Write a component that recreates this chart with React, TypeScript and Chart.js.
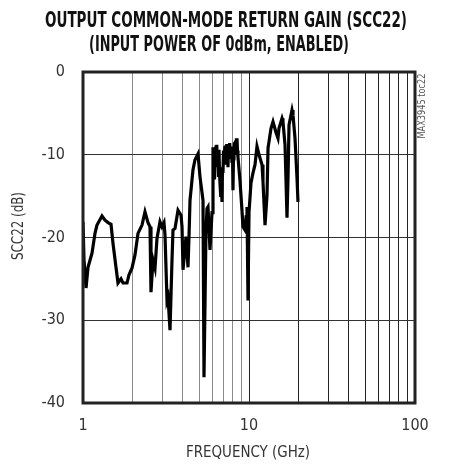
import React, { useEffect, useRef } from 'react';
import { Chart, registerables } from 'chart.js';

Chart.register(...registerables);

const titleLines = ['OUTPUT COMMON-MODE RETURN GAIN (SCC22)', '(INPUT POWER OF 0dBm, ENABLED)'];
const xAxisTitle = 'FREQUENCY (GHz)';
const yAxisTitle = 'SCC22 (dB)';
const watermark = 'MAX3945 toc22';

const freqGHz = [
  1.0, 1.014, 1.043, 1.072, 1.133, 1.181, 1.214, 1.302, 1.357, 1.415, 1.475, 1.516, 1.58, 1.625, 1.694,
  1.742, 1.841, 1.893, 1.973, 2.057, 2.145, 2.267, 2.363, 2.464, 2.533, 2.568, 2.64, 2.715, 2.791, 2.91,
  2.991, 3.075, 3.119, 3.207, 3.252, 3.343, 3.437, 3.485, 3.583, 3.735, 3.895, 3.949, 4.004, 4.174, 4.291,
  4.351, 4.412, 4.599, 4.728, 4.929, 5.07, 5.284, 5.357, 5.432, 5.508, 5.585, 5.663, 5.822, 5.986,
  6.069, 6.11, 6.15, 6.2, 6.24, 6.29, 6.33, 6.37, 6.415, 6.46, 6.5, 6.55, 6.595, 6.64, 6.69, 6.74,
  6.781, 6.83, 6.875, 6.92, 6.971, 7.02, 7.07, 7.12, 7.167, 7.22, 7.27, 7.32, 7.368, 7.42, 7.47, 7.52,
  7.575, 7.65, 7.73, 7.81, 7.897, 7.95, 8.007, 8.06, 8.12, 8.17, 8.232, 8.29, 8.35, 8.4, 8.463, 8.52,
  8.582, 8.823, 9.07, 9.197, 9.461, 9.6, 9.726,
  9.862, 10.0, 10.28, 10.57, 10.87, 11.17, 11.49, 11.98, 12.14, 12.49, 12.84, 13.02, 13.57, 13.95, 14.54,
  14.95, 15.16, 15.81, 16.02, 16.48, 16.94, 17.18, 17.42, 18.16, 18.41, 18.93, 19.46, 19.73,
];

const scc22dB = [
  -18.1, -22.7, -26.1, -23.6, -21.9, -19.5, -18.5, -17.4, -17.9, -18.2, -18.4, -20.7, -23.6, -25.5, -25.0,
  -25.5, -25.5, -24.5, -23.7, -22.1, -19.5, -18.5, -16.9, -18.2, -18.7, -26.6, -22.7, -23.7, -20.1, -18.1,
  -18.7, -18.2, -19.7, -27.6, -27.2, -31.2, -22.7, -19.1, -18.9, -16.7, -17.3, -18.7, -23.9, -19.9, -23.6,
  -19.9, -15.5, -11.8, -10.6, -9.9, -12.7, -15.5, -36.9, -28.0, -19.0, -16.5, -16.3, -21.5, -17.0,
  -9.1, -12.5, -9.5, -13.0, -10.0, -11.5, -8.9, -10.5, -8.8, -11.0, -9.5, -12.5, -9.4, -12.0, -13.5, -11.5,
  -15.1, -13.0, -15.7, -11.5, -12.2, -9.5, -11.0, -9.0, -10.3, -8.9, -10.5, -8.7, -10.0, -8.8, -11.5, -9.0,
  -10.5, -8.6, -10.2, -9.0, -11.0, -9.4, -14.3, -10.5, -9.8, -8.5, -10.0, -8.3, -9.5, -8.2, -8.0, -9.5,
  -10.3, -13.1, -16.7, -18.7, -19.1, -17.5, -16.3,
  -27.6, -17.0, -13.4, -12.2, -11.2, -9.0, -10.0, -11.2, -13.2, -18.5, -14.9, -9.2, -6.8, -6.0, -7.3,
  -8.0, -6.8, -5.6, -6.0, -8.8, -17.6, -12.8, -6.4, -4.6, -5.2, -8.0, -12.8, -15.7,
];

const xGridValues = [1, 2, 3, 4, 5, 6, 7, 8, 9, 10, 20, 30, 40, 50, 60, 70, 80, 90, 100];
const xLabelValues = [1, 10, 100];
const yMin = -40;
const yMax = 0;
const yStep = 10;

const NARROW = "'Liberation Sans Narrow', 'Arial Narrow', 'DejaVu Sans Condensed', sans-serif";

function fitText(
  ctx: CanvasRenderingContext2D,
  text: string,
  x: number,
  y: number,
  width: number,
  font: string,
  color: string,
  align: 'left' | 'center',
  rotate = 0
) {
  ctx.save();
  ctx.font = font;
  const m = ctx.measureText(text).width;
  ctx.translate(x, y);
  if (rotate) ctx.rotate(rotate);
  ctx.scale(width / m, 1);
  ctx.fillStyle = color;
  ctx.textAlign = align;
  ctx.textBaseline = 'middle';
  ctx.fillText(text, 0, 0);
  ctx.restore();
}

const decorPlugin = {
  id: 'decor',
  afterDraw(chart: any) {
    const { ctx, chartArea: a } = chart;
    ctx.save();
    ctx.strokeStyle = '#222';
    ctx.lineWidth = 3;
    ctx.strokeRect(a.left, a.top, a.right - a.left, a.bottom - a.top);
    ctx.restore();

    fitText(ctx, titleLines[0], 45, 21.5, 362, `bold 22px ${NARROW}`, '#111', 'left');
    fitText(ctx, titleLines[1], 89, 45.5, 260, `bold 22px ${NARROW}`, '#111', 'left');
    fitText(ctx, xAxisTitle, 248, 453, 124, `16px ${NARROW}`, '#333', 'center');
    fitText(ctx, yAxisTitle, 19, 226, 68, `16px ${NARROW}`, '#333', 'center', -Math.PI / 2);
    fitText(ctx, watermark, 422.5, 106, 65, `11px ${NARROW}`, '#555', 'center', -Math.PI / 2);
  },
};

export default function App() {
  const ref = useRef<HTMLCanvasElement | null>(null);

  useEffect(() => {
    document.body.style.margin = '0';
    const canvas = ref.current;
    if (!canvas) return;
    const points = freqGHz.map((f, i) => ({ x: f, y: scc22dB[i] }));
    const chart = new Chart(canvas, {
      type: 'line',
      data: {
        datasets: [
          {
            data: points,
            borderColor: '#000',
            borderWidth: 3.2,
            pointRadius: 0,
            tension: 0,
            fill: false,
          },
        ],
      },
      options: {
        animation: false,
        responsive: false,
        devicePixelRatio: 1,
        layout: { padding: { left: 0, right: 39, top: 72, bottom: 0 } },
        plugins: { legend: { display: false }, tooltip: { enabled: false }, title: { display: false } },
        scales: {
          x: {
            type: 'logarithmic',
            min: 1,
            max: 100,
            afterFit: (s: any) => {
              s.height = 61;
            },
            afterBuildTicks: (s: any) => {
              s.ticks = xGridValues.map((v) => ({ value: v }));
            },
            border: { display: false },
            grid: {
              drawTicks: false,
              lineWidth: 1,
              color: (c: any) => (c.tick && c.tick.value < 10 ? '#8a8a8a' : '#222'),
            },
            ticks: {
              autoSkip: false,
              maxRotation: 0,
              padding: 13,
              color: '#333',
              font: { family: NARROW, size: 16 },
              callback: (v: any) => (xLabelValues.includes(Number(v)) ? String(v) : ''),
            },
          },
          y: {
            min: yMin,
            max: yMax,
            afterFit: (s: any) => {
              s.width = 83;
            },
            border: { display: false },
            grid: { drawTicks: false, lineWidth: 1, color: '#333' },
            ticks: {
              stepSize: yStep,
              padding: 18,
              color: '#333',
              font: { family: NARROW, size: 16 },
            },
          },
        },
      },
      plugins: [decorPlugin],
    });
    return () => chart.destroy();
  }, []);

  return (
    <div style={{ position: 'absolute', left: 0, top: 0, width: 454, height: 464, background: '#fff' }}>
      <canvas ref={ref} width={454} height={464} />
    </div>
  );
}
